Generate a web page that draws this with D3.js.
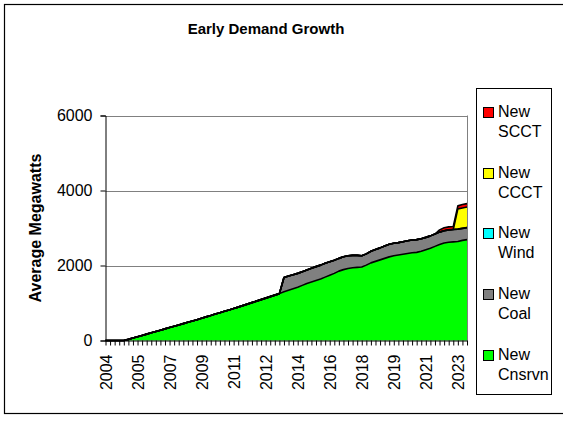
<!DOCTYPE html>
<html><head><meta charset="utf-8">
<script src="https://cdn.jsdelivr.net/npm/d3@7"></script>
<style>body{margin:0;background:#fff}svg{display:block;font-family:"Liberation Sans",Arial,sans-serif}</style>
</head><body>
<svg id="c" width="563" height="421"></svg>
<script>
const quarters = [
"2004-Q1","2004-Q2","2004-Q3","2004-Q4","2005-Q1","2005-Q2","2005-Q3","2005-Q4",
"2006-Q1","2006-Q2","2006-Q3","2006-Q4","2007-Q1","2007-Q2","2007-Q3","2007-Q4",
"2008-Q1","2008-Q2","2008-Q3","2008-Q4","2009-Q1","2009-Q2","2009-Q3","2009-Q4",
"2010-Q1","2010-Q2","2010-Q3","2010-Q4","2011-Q1","2011-Q2","2011-Q3","2011-Q4",
"2012-Q1","2012-Q2","2012-Q3","2012-Q4","2013-Q1","2013-Q2","2013-Q3","2013-Q4",
"2014-Q1","2014-Q2","2014-Q3","2014-Q4","2015-Q1","2015-Q2","2015-Q3","2015-Q4",
"2016-Q1","2016-Q2","2016-Q3","2016-Q4","2017-Q1","2017-Q2","2017-Q3","2017-Q4",
"2018-Q1","2018-Q2","2018-Q3","2018-Q4","2019-Q1","2019-Q2","2019-Q3","2019-Q4",
"2020-Q1","2020-Q2","2020-Q3","2020-Q4","2021-Q1","2021-Q2","2021-Q3","2021-Q4",
"2022-Q1","2022-Q2","2022-Q3","2022-Q4","2023-Q1","2023-Q2","2023-Q3","2023-Q4"];
const xLabelQuarters = ["2004-Q1","2005-Q4","2007-Q3","2009-Q2","2011-Q1","2012-Q4",
"2014-Q3","2016-Q2","2018-Q1","2019-Q4","2021-Q3","2023-Q2"];

const cnsrvn = [0,0,0,0,0,30,65,100,135,170,205,240,275,310,345,380,415,450,485,520,
555,595,630,665,705,740,780,815,855,890,930,970,1010,1050,1090,1130,1170,1210,1250,1300,
1340,1380,1420,1470,1520,1560,1600,1640,1690,1740,1790,1850,1890,1920,1940,1950,1960,2010,2070,2110,
2150,2190,2230,2260,2280,2300,2320,2340,2350,2380,2420,2460,2510,2560,2600,2620,2630,2640,2670,2690];
const coal = [0,0,0,0,0,0,0,0,0,0,0,0,0,0,0,0,0,0,0,0,
0,0,0,0,0,0,0,0,0,0,0,0,0,0,0,0,0,0,0,380,
380,375,370,365,360,365,370,370,370,360,350,340,345,340,330,320,300,300,310,315,
320,330,335,335,330,335,340,340,340,335,330,330,330,330,325,330,330,330,320,320];
const wind = [0,0,0,0,0,0,0,0,0,0,0,0,0,0,0,0,0,0,0,0,
0,0,0,0,0,0,0,0,0,0,0,0,0,0,0,0,0,0,0,0,
0,0,0,0,0,0,0,0,0,0,0,0,0,0,0,0,0,0,0,0,
0,0,0,0,0,0,0,0,0,0,0,0,0,0,0,0,0,0,0,0];
const ccct = [0,0,0,0,0,0,0,0,0,0,0,0,0,0,0,0,0,0,0,0,
0,0,0,0,0,0,0,0,0,0,0,0,0,0,0,0,0,0,0,0,
0,0,0,0,0,0,0,0,0,0,0,0,0,0,0,0,0,0,0,0,
0,0,0,0,0,0,0,0,0,0,0,0,0,0,0,0,0,540,545,550];
const scct = [0,0,0,0,0,0,0,0,0,0,0,0,0,0,0,0,0,0,0,0,
0,0,0,0,0,0,0,0,0,0,0,0,0,0,0,0,0,0,0,0,
0,0,0,0,0,0,0,0,0,0,0,0,0,0,0,0,0,0,0,0,
0,0,0,0,0,0,0,0,0,0,0,0,0,60,80,80,80,80,90,90];

const seriesNames = ["New Cnsrvn","New Coal","New Wind","New CCCT","New SCCT"];
const seriesValues = [cnsrvn, coal, wind, ccct, scct];
const seriesColors = ["#00ff00","#808080","#00ffff","#ffff00","#ff0000"];
const yTicks = [0,2000,4000,6000];

const svg = d3.select("#c");
const L = 105.5, R = 467, T = 115.5, B = 340.5;

// outer chart border
svg.append("rect").attr("x",4.5).attr("y",4.5).attr("width",600).attr("height",409)
  .attr("fill","none").attr("stroke","#000").attr("stroke-width",1.2);

const x = d3.scalePoint().domain(quarters).range([L, R]);
const y = d3.scaleLinear().domain([0, 6000]).range([B, T]);

// gridlines
svg.append("g").selectAll("line").data(yTicks.filter(d=>d>0)).join("line")
  .attr("x1",L).attr("x2",R).attr("y1",d=>Math.round(y(d))+0.5).attr("y2",d=>Math.round(y(d))+0.5)
  .attr("stroke","#808080").attr("stroke-width",1);

// stacked data
const table = quarters.map((q,i)=>{
  const o = {q};
  seriesNames.forEach((n,k)=>o[n]=seriesValues[k][i]);
  return o;
});
const stacked = d3.stack().keys(seriesNames)(table);

const area = d3.area().x(d=>x(d.data.q)).y0(d=>y(d[0])).y1(d=>y(d[1]));
const topLine = d3.line().x(d=>x(d.data.q)).y(d=>y(d[1]));

svg.append("g").selectAll("path").data(stacked).join("path")
  .attr("d",area).attr("fill",(d,i)=>seriesColors[i]).attr("stroke","none");
svg.append("g").selectAll("path").data(stacked).join("path")
  .attr("d",topLine).attr("fill","none").attr("stroke","#000").attr("stroke-width",1.6)
  .attr("stroke-linejoin","round");

// right plot border
svg.append("line").attr("x1",R+0.5).attr("x2",R+0.5).attr("y1",T).attr("y2",B)
  .attr("stroke","#808080").attr("stroke-width",1);

// y axis
const yAxis = svg.append("g").attr("transform",`translate(${L},0)`)
  .call(d3.axisLeft(y).tickValues(yTicks).tickSize(5).tickPadding(8).tickFormat(d3.format("d")));
yAxis.select(".domain").attr("stroke","#000");
yAxis.selectAll("line").attr("stroke","#000");
yAxis.selectAll("text").attr("font-size",16).attr("font-family","Liberation Sans, Arial").attr("fill","#000");

// x axis
const labelSet = new Set(xLabelQuarters);
const xAxis = svg.append("g").attr("transform",`translate(0,${B})`)
  .call(d3.axisBottom(x).tickValues(quarters).tickSize(5).tickSizeOuter(0)
    .tickFormat(q=>labelSet.has(q)?q.slice(0,4):""));
xAxis.select(".domain").attr("stroke","#000");
xAxis.selectAll("line").attr("stroke","#000");
xAxis.selectAll("text").attr("font-size",16).attr("font-family","Liberation Sans, Arial").attr("fill","#000")
  .attr("transform","rotate(-90)").attr("x",-14).attr("y",0).attr("dy","0.35em").style("text-anchor","end");

// title
svg.append("text").attr("x",266).attr("y",34).attr("text-anchor","middle")
  .attr("font-size",15).attr("font-weight","bold").text("Early Demand Growth");

// y label
svg.append("text").attr("transform","translate(41,228) rotate(-90)").attr("text-anchor","middle")
  .attr("font-size",16).attr("font-weight","bold").text("Average Megawatts");

// legend
const lg = svg.append("g");
lg.append("rect").attr("x",476.5).attr("y",88.5).attr("width",75).attr("height",306)
  .attr("fill","#fff").attr("stroke","#000").attr("stroke-width",1);
const legendOrder = [4,3,2,1,0];
legendOrder.forEach((k,j)=>{
  const yy = 107 + j*60.7;
  lg.append("rect").attr("x",483.5).attr("y",Math.round(yy)+0.5).attr("width",10).attr("height",10)
    .attr("fill",seriesColors[k]).attr("stroke","#000").attr("stroke-width",1);
  const parts = seriesNames[k].split(" ");
  lg.append("text").attr("x",498).attr("y",yy+10).attr("font-size",16).text(parts[0]);
  lg.append("text").attr("x",498).attr("y",yy+30).attr("font-size",16).text(parts[1]);
});
</script>
</body></html>
